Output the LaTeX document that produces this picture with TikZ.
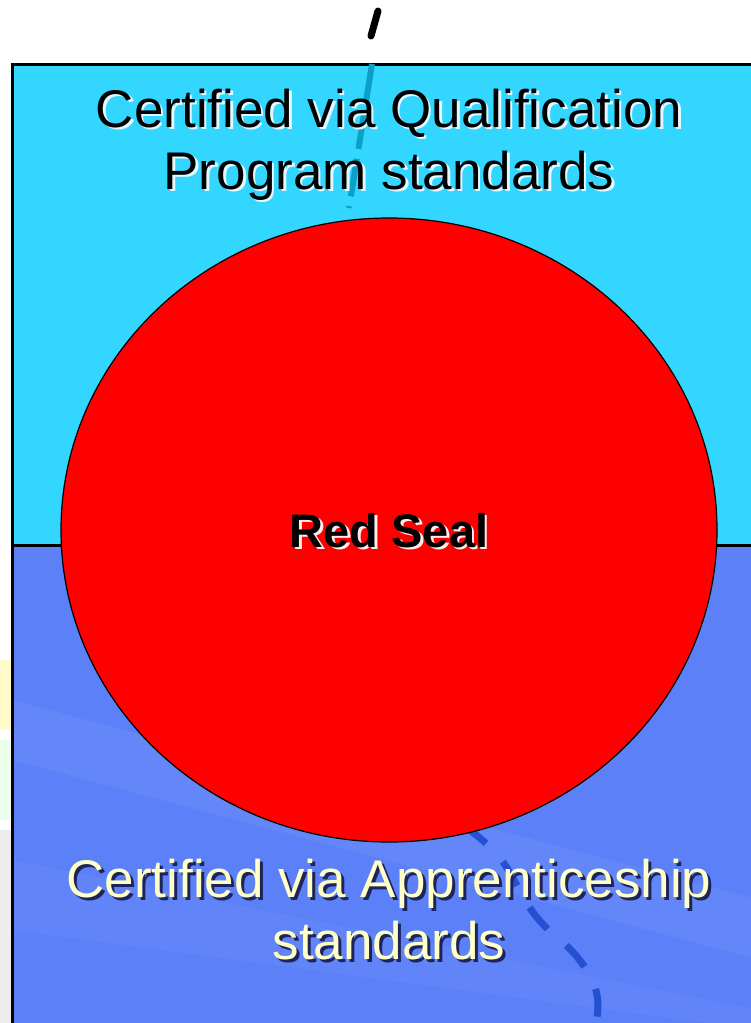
\documentclass[tikz,border=0pt]{standalone}
\usepackage{fontspec}
\setmainfont{Liberation Sans}
\usetikzlibrary{shapes.geometric}
\definecolor{topcol}{RGB}{51,214,255}
\definecolor{botcol}{RGB}{91,128,248}
\definecolor{sealred}{RGB}{255,0,0}
\definecolor{cream}{RGB}{255,255,200}
\definecolor{tealdash}{RGB}{10,160,200}
\definecolor{bluedash}{RGB}{38,80,210}
\definecolor{topshadow}{RGB}{225,248,255}
\definecolor{botshadow}{RGB}{30,35,90}
\definecolor{redshadow}{RGB}{255,235,235}
% text with an offset shadow, set in one box
\newcommand\shadowed[3]{\leavevmode\rlap{\raisebox{-#3}{\hspace{#3}\textcolor{#1}{#2}}}#2}
\tikzset{
  bigtext/.style={font=\fontsize{53}{64}\selectfont, anchor=base, inner sep=0pt},
  sealtext/.style={font=\bfseries\fontsize{47}{56}\selectfont, anchor=base, inner sep=0pt},
  border/.style={line width=3pt, draw=black},
  tealdashline/.style={line width=6pt, dash pattern=on 38pt off 10pt, draw=tealdash},
  bluedashline/.style={line width=7pt, dash pattern=on 28pt off 25pt, draw=bluedash},
}
\begin{document}
\begin{tikzpicture}[x=1pt,y=-1pt]
\useasboundingbox (0,0) rectangle (751,1023);
\fill[white] (0,0) rectangle (751,1023);
% faint background streaks on the left
\fill[yellow!60!white, opacity=0.35] (0,660) rectangle (12,730);
\fill[green!30!white, opacity=0.25] (0,740) rectangle (12,820);
\fill[gray!40!white, opacity=0.35] (0,830) rectangle (12,1023);
% panels
\fill[topcol] (12,64) rectangle (760,545);
\fill[botcol] (12,545) rectangle (760,1030);
\fill[white, opacity=0.05] (12,700) -- (760,900) -- (760,960) -- (12,760) -- cycle;
\fill[white, opacity=0.04] (12,860) -- (760,1010) -- (760,1030) -- (12,930) -- cycle;
\draw[border] (760,64) -- (12,64) -- (12,1030);
\draw[border] (12,545) -- (760,545);
% dashed path
\coordinate (d0) at (378,11);
\coordinate (d1) at (371,36);
\draw[line width=7pt, line cap=round, black] (d0) -- (d1);
\coordinate (t0) at (372,64);
\coordinate (t1) at (349,208);
\draw[tealdashline] (t0) -- (t1);
\draw[bluedashline] plot[smooth, tension=0.7] coordinates {(464,826) (500,858) (535,915) (578,958) (597,995) (594,1035)};
% top labels
\node[bigtext] (q1) at (389,127) {\shadowed{topshadow}{Certified via Qualification}{2.5pt}};
\node[bigtext] (q2) at (389,189) {\shadowed{topshadow}{Program standards}{2.5pt}};
% circle
\node[draw=black, line width=1.2pt, fill=sealred, ellipse, minimum width=656pt, minimum height=624pt, inner sep=0pt] (seal) at (389,530) {};
\node[sealtext] (rs) at (389,547) {\shadowed{redshadow}{Red Seal}{2.5pt}};
% bottom labels
\node[bigtext, text=cream] (a1) at (389,897) {\shadowed{botshadow}{Certified via Apprenticeship}{3pt}};
\node[bigtext, text=cream] (a2) at (389,959) {\shadowed{botshadow}{standards}{3pt}};
\end{tikzpicture}
\end{document}
